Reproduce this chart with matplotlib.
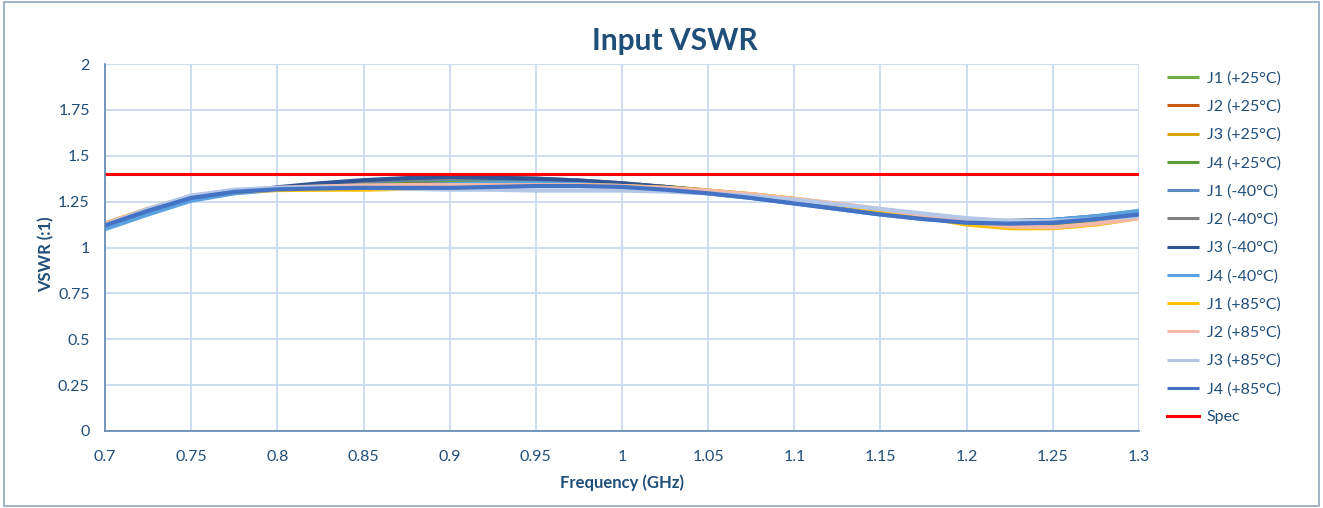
import matplotlib
matplotlib.use("Agg")
import matplotlib.pyplot as plt
from matplotlib.patches import Rectangle

freq = [0.7, 0.725, 0.75, 0.775, 0.8, 0.825, 0.85, 0.875, 0.9, 0.925, 0.95, 0.975,
        1.0, 1.025, 1.05, 1.075, 1.1, 1.125, 1.15, 1.175, 1.2, 1.225, 1.25, 1.275, 1.3]

j1_p25 = [1.12,1.20,1.27,1.305,1.325,1.34,1.35,1.36,1.36,1.36,1.355,1.35,1.34,1.325,1.305,1.28,1.255,1.225,1.195,1.165,1.14,1.125,1.13,1.15,1.175]
j2_p25 = [1.12,1.20,1.27,1.305,1.32,1.33,1.34,1.345,1.345,1.345,1.345,1.34,1.335,1.32,1.305,1.285,1.26,1.23,1.20,1.17,1.14,1.12,1.12,1.14,1.17]
j3_p25 = [1.13,1.21,1.275,1.305,1.318,1.325,1.33,1.335,1.34,1.345,1.345,1.345,1.34,1.33,1.31,1.29,1.265,1.235,1.205,1.175,1.14,1.12,1.115,1.135,1.165]
j4_p25 = [1.12,1.20,1.27,1.305,1.325,1.34,1.355,1.365,1.37,1.37,1.365,1.355,1.345,1.33,1.31,1.285,1.255,1.225,1.195,1.165,1.14,1.125,1.13,1.15,1.175]
j1_m40 = [1.11,1.19,1.26,1.30,1.325,1.345,1.36,1.37,1.375,1.375,1.37,1.36,1.345,1.325,1.30,1.275,1.245,1.215,1.185,1.16,1.14,1.135,1.14,1.16,1.19]
j2_m40 = [1.11,1.19,1.26,1.30,1.325,1.345,1.362,1.375,1.38,1.38,1.375,1.365,1.35,1.33,1.305,1.28,1.25,1.22,1.19,1.165,1.145,1.14,1.145,1.165,1.19]
j3_m40 = [1.11,1.19,1.26,1.30,1.328,1.35,1.367,1.378,1.385,1.38,1.375,1.365,1.35,1.33,1.305,1.28,1.245,1.215,1.185,1.16,1.145,1.145,1.15,1.17,1.195]
j4_m40 = [1.10,1.18,1.255,1.295,1.315,1.328,1.335,1.34,1.345,1.35,1.35,1.345,1.335,1.315,1.295,1.27,1.24,1.21,1.18,1.155,1.14,1.14,1.15,1.17,1.20]
j1_p85 = [1.13,1.21,1.278,1.305,1.313,1.315,1.315,1.32,1.33,1.335,1.34,1.34,1.335,1.325,1.31,1.29,1.265,1.235,1.20,1.165,1.125,1.105,1.105,1.125,1.16]
j2_p85 = [1.13,1.21,1.278,1.31,1.325,1.333,1.338,1.34,1.34,1.34,1.34,1.34,1.335,1.325,1.31,1.29,1.265,1.24,1.21,1.175,1.14,1.115,1.11,1.13,1.16]
j3_p85 = [1.12,1.21,1.283,1.315,1.325,1.328,1.325,1.32,1.315,1.315,1.31,1.31,1.31,1.305,1.295,1.28,1.26,1.235,1.21,1.185,1.16,1.145,1.145,1.155,1.17]
j4_p85 = [1.12,1.20,1.27,1.303,1.317,1.322,1.325,1.325,1.325,1.33,1.335,1.335,1.33,1.315,1.295,1.27,1.24,1.21,1.18,1.155,1.135,1.13,1.135,1.155,1.18]
spec = 1.4

labels = ["J1 (+25°C)", "J2 (+25°C)", "J3 (+25°C)", "J4 (+25°C)",
          "J1 (-40°C)", "J2 (-40°C)", "J3 (-40°C)", "J4 (-40°C)",
          "J1 (+85°C)", "J2 (+85°C)", "J3 (+85°C)", "J4 (+85°C)"]
series = [j1_p25, j2_p25, j3_p25, j4_p25, j1_m40, j2_m40, j3_m40, j4_m40,
          j1_p85, j2_p85, j3_p85, j4_p85]
colors = ["#70AD47", "#C55A11", "#D9A300", "#5B9A3C",
          "#5B8CC4", "#808080", "#2F5597", "#5BA3E0",
          "#FFC000", "#F4B9A8", "#B4C7E7", "#4472C4"]

xticks = [0.7, 0.75, 0.8, 0.85, 0.9, 0.95, 1.0, 1.05, 1.1, 1.15, 1.2, 1.25, 1.3]
xticklabels = ["0.7", "0.75", "0.8", "0.85", "0.9", "0.95", "1", "1.05", "1.1", "1.15", "1.2", "1.25", "1.3"]
yticks = [0, 0.25, 0.5, 0.75, 1, 1.25, 1.5, 1.75, 2]
yticklabels = ["0", "0.25", "0.5", "0.75", "1", "1.25", "1.5", "1.75", "2"]

txt = "#1F4E79"
plt.rcParams['font.family'] = ['Lato', 'DejaVu Sans']

fig = plt.figure(figsize=(13.23, 5.08), dpi=100)
fig.patches.append(Rectangle((0.003, 0.003), 0.994, 0.994, transform=fig.transFigure,
                             fill=False, edgecolor="#8FA8C0", linewidth=1.2))
ax = fig.add_axes([105/1323, 1-431/508, (1139-105)/1323, (431-64)/508])

for s, c, l in zip(series, colors, labels):
    ax.plot(freq, s, color=c, linewidth=3.0, label=l, solid_capstyle='butt',
            solid_joinstyle='round')
ax.plot([freq[0], freq[-1]], [spec, spec], color="#FF0000", linewidth=2.2, label="Spec")

ax.set_xlim(0.7, 1.3)
ax.set_ylim(0, 2)
ax.set_xticks(xticks)
ax.set_xticklabels(xticklabels)
ax.set_yticks(yticks)
ax.set_yticklabels(yticklabels)
ax.grid(True, color="#C9DAEE", linewidth=1.3)
ax.set_axisbelow(True)
for sp in ["top", "right"]:
    ax.spines[sp].set_visible(False)
for sp in ["left", "bottom"]:
    ax.spines[sp].set_color("#5E87B0")
    ax.spines[sp].set_linewidth(1.2)
ax.tick_params(axis='both', length=0, labelsize=11.5, labelcolor=txt)
ax.tick_params(axis='x', pad=14)
ax.tick_params(axis='y', pad=11)

ax.set_xlabel("Frequency (GHz)", fontsize=12, fontweight='bold', color=txt, labelpad=7)
ax.set_ylabel("VSWR (:1)", fontsize=12, fontweight='bold', color=txt)
ax.yaxis.set_label_coords(54/1323, 0.5, transform=fig.transFigure)
fig.text(674.5/1323, 1-41/508, "Input VSWR", ha='center', va='center', fontsize=21.5,
         fontweight='bold', color=txt)

handles, labs = ax.get_legend_handles_labels()
leg = fig.legend(handles, labs, loc='upper left', bbox_to_anchor=(1153/1323, 1-57/508),
                 frameon=False, fontsize=11.5, labelcolor=txt, handlelength=2.0,
                 handletextpad=0.45, labelspacing=0.87)
for h in leg.legend_handles:
    h.set_linewidth(2.2)

fig.savefig("out.png", dpi=100)
